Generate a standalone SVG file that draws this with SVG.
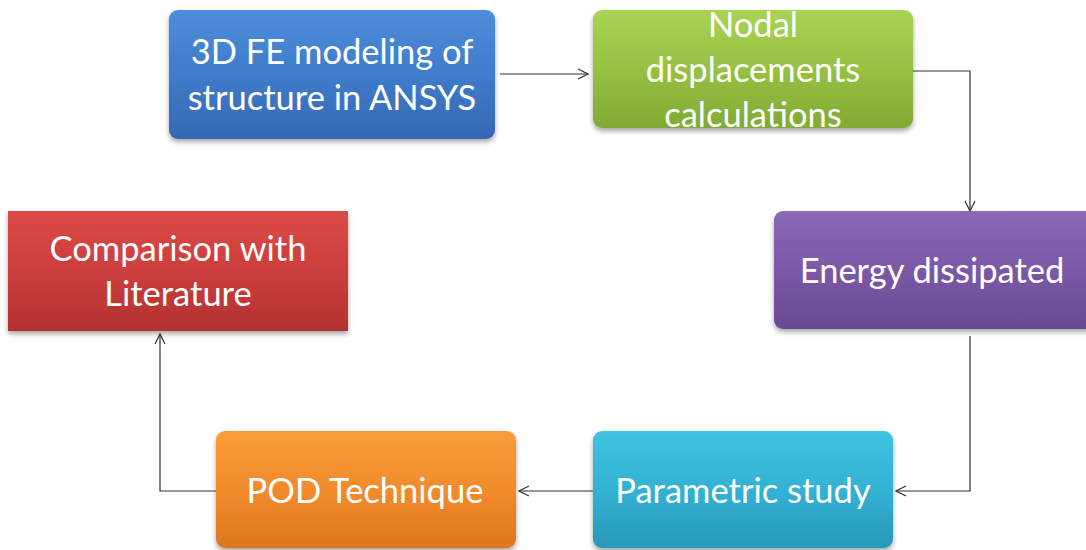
<svg xmlns="http://www.w3.org/2000/svg" width="1086" height="550" viewBox="0 0 1086 550">
<style>
.t{font-family:Lato,"Open Sans","Liberation Sans",sans-serif;font-size:34.5px;fill:#ffffff;text-anchor:middle}
.c{fill:none;stroke:#333333;stroke-width:1.2}
</style>
<defs>
<filter id="sh" x="-10%" y="-10%" width="120%" height="130%">
<feDropShadow dx="0" dy="3" stdDeviation="2.5" flood-color="#000" flood-opacity="0.35"/>
</filter>
<linearGradient id="gb" x1="0" y1="0" x2="0" y2="1"><stop offset="0" stop-color="#4d8ddb"/><stop offset="0.5" stop-color="#3f7cca"/><stop offset="1" stop-color="#3568b4"/></linearGradient>
<linearGradient id="gg" x1="0" y1="0" x2="0" y2="1"><stop offset="0" stop-color="#a9d354"/><stop offset="0.5" stop-color="#96c142"/><stop offset="1" stop-color="#82aa34"/></linearGradient>
<linearGradient id="gp" x1="0" y1="0" x2="0" y2="1"><stop offset="0" stop-color="#8c69b8"/><stop offset="0.5" stop-color="#7a59a6"/><stop offset="1" stop-color="#684a92"/></linearGradient>
<linearGradient id="gr" x1="0" y1="0" x2="0" y2="1"><stop offset="0" stop-color="#dc4a48"/><stop offset="0.5" stop-color="#cc3e3c"/><stop offset="1" stop-color="#b23230"/></linearGradient>
<linearGradient id="go" x1="0" y1="0" x2="0" y2="1"><stop offset="0" stop-color="#f99d3a"/><stop offset="0.5" stop-color="#f18b2c"/><stop offset="1" stop-color="#dd7720"/></linearGradient>
<linearGradient id="gc" x1="0" y1="0" x2="0" y2="1"><stop offset="0" stop-color="#40c3e3"/><stop offset="0.5" stop-color="#33b2d4"/><stop offset="1" stop-color="#2898b8"/></linearGradient>
<marker id="ar" viewBox="0 0 12 12" refX="11" refY="6" markerWidth="12" markerHeight="12" markerUnits="userSpaceOnUse" orient="auto">
<path d="M1,1 L11,6 L1,11" fill="none" stroke="#333333" stroke-width="1.2"/>
</marker>
</defs>
<rect width="1086" height="550" fill="#ffffff"/>
<g id="connectors">
<path class="c" d="M500,74 H588" marker-end="url(#ar)"/>
<path class="c" d="M913,71 H970 V211" marker-end="url(#ar)"/>
<path class="c" d="M970,336 V491 H896" marker-end="url(#ar)"/>
<path class="c" d="M593,491 H519" marker-end="url(#ar)"/>
<path class="c" d="M216,491 H160 V334" marker-end="url(#ar)"/>
</g>
<g id="n1">
<rect x="169" y="10" width="326" height="129" rx="9" fill="url(#gb)" filter="url(#sh)"/>
<text class="t" x="332" y="64">3D FE modeling of</text>
<text class="t" x="332" y="110">structure in ANSYS</text>
</g>
<g id="n2">
<rect x="593" y="10" width="320" height="118" rx="9" fill="url(#gg)" filter="url(#sh)"/>
<text class="t" x="753" y="37">Nodal</text>
<text class="t" x="753" y="82">displacements</text>
<text class="t" x="753" y="127">calculations</text>
</g>
<g id="n3">
<rect x="774" y="211" width="330" height="118" rx="9" fill="url(#gp)" filter="url(#sh)"/>
<text class="t" x="932" y="283">Energy dissipated</text>
</g>
<g id="n4">
<rect x="8" y="211" width="340" height="120" fill="url(#gr)" filter="url(#sh)"/>
<text class="t" x="178" y="261">Comparison with</text>
<text class="t" x="178" y="306">Literature</text>
</g>
<g id="n5">
<rect x="216" y="431" width="300" height="117" rx="9" fill="url(#go)" filter="url(#sh)"/>
<text class="t" x="365" y="503">POD Technique</text>
</g>
<g id="n6">
<rect x="593" y="431" width="300" height="117" rx="9" fill="url(#gc)" filter="url(#sh)"/>
<text class="t" x="743" y="503">Parametric study</text>
</g>
</svg>
